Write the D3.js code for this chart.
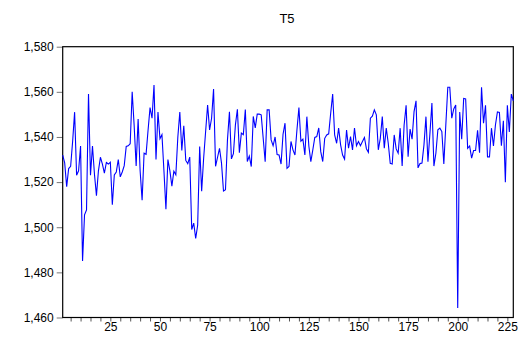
<!DOCTYPE html>
<html>
<head>
<meta charset="utf-8">
<script src="https://cdn.jsdelivr.net/npm/d3@7"></script>
<style>
  body { margin: 0; background: #fff; }
  svg text { font-family: Arial, "Liberation Sans", sans-serif; }
</style>
</head>
<body>
<div id="chart"></div>
<script>
// series T5, observations 1..228
const t5 = [
  1532, 1528.5, 1518, 1526, 1527, 1538, 1551, 1523, 1525, 1536,
  1485, 1505.5, 1507.7, 1559, 1523, 1536, 1523.5, 1514, 1525, 1531,
  1528, 1524, 1528.7, 1528, 1528.8, 1510, 1523.2, 1524.5, 1530, 1522.3,
  1524.5, 1527.3, 1535.8, 1536.1, 1537, 1560, 1545, 1527.2, 1548, 1525,
  1512, 1532.8, 1532.3, 1543, 1553, 1548.3, 1563, 1530, 1551, 1539.2,
  1541, 1525, 1508, 1530, 1525, 1518.2, 1524.8, 1523.2, 1540, 1551,
  1534, 1545, 1529.6, 1528.2, 1531.1, 1499, 1501.8, 1495, 1501, 1535.8,
  1516, 1530.6, 1542.4, 1554.2, 1543.1, 1548.3, 1561.2, 1527, 1531, 1535,
  1528.4, 1516, 1516.6, 1538.7, 1551.2, 1530.3, 1532.6, 1545.3, 1552.3, 1533,
  1541.7, 1541, 1552.2, 1529.1, 1531.5, 1526.9, 1549.1, 1544, 1550.1, 1550.1,
  1549.8, 1539.4, 1529, 1552, 1552, 1538.7, 1536.1, 1540, 1532.2, 1532,
  1528, 1541.2, 1546.1, 1526.1, 1526.9, 1538, 1534.3, 1532, 1543.1, 1553,
  1538.1, 1539, 1532, 1549, 1536, 1529.1, 1534.3, 1539.8, 1540.2, 1544,
  1533.5, 1529.1, 1539.4, 1540.9, 1541.4, 1550.5, 1559, 1540.9, 1537.2, 1543.9,
  1536.5, 1532, 1530.2, 1543.1, 1535, 1540.2, 1534.3, 1544, 1536.1, 1538,
  1536.1, 1538, 1539.8, 1534.8, 1533.2, 1548.3, 1549.2, 1552, 1549.8, 1534.3,
  1539.4, 1549, 1535, 1543.9, 1537.2, 1528.3, 1528, 1540.9, 1534.7, 1532.8,
  1543.9, 1527.1, 1545.3, 1554, 1531.2, 1543.5, 1539, 1551.2, 1556, 1526.3,
  1528.2, 1528.4, 1536.5, 1549, 1529, 1541.6, 1555, 1527.1, 1532.8, 1543.2,
  1543.9, 1542.4, 1528, 1545.3, 1562, 1562, 1548.3, 1552.4, 1554.2, 1464.2,
  1551.1, 1539, 1557.1, 1556.9, 1535, 1536, 1530.6, 1534, 1534, 1542.9,
  1533, 1562, 1546.1, 1554, 1531.2, 1531.2, 1543.9, 1536, 1545.3, 1551.1,
  1550.9, 1536.1, 1547.2, 1519.9, 1554, 1542.2, 1559, 1556
];
const yTicks = [1460, 1480, 1500, 1520, 1540, 1560, 1580];
const xLabels = [25, 50, 75, 100, 125, 150, 175, 200, 225];
const xMinor = d3.range(5, 230, 5);
const title = "T5";

const width = 528, height = 340;
const plotLeft = 62.7, plotRight = 513.3, plotTop = 46.7, plotBottom = 317.5;

const svg = d3.select("#chart").append("svg")
  .attr("width", width)
  .attr("height", height);

const x = d3.scaleLinear().domain([1, t5.length]).range([plotLeft, plotRight]);
const y = d3.scaleLinear().domain([1460, 1580]).range([plotBottom, plotTop]);

svg.append("text")
  .attr("x", 287).attr("y", 23)
  .attr("text-anchor", "middle")
  .attr("font-size", 13)
  .attr("fill", "#000")
  .text(title);

// y axis
const yAxis = svg.append("g")
  .attr("transform", `translate(${plotLeft},0)`)
  .call(d3.axisLeft(y).tickValues(yTicks).tickFormat(d3.format(",")).tickSize(6).tickPadding(3));
yAxis.select(".domain").remove();
yAxis.selectAll("line").attr("stroke", "#777");
yAxis.selectAll("text").attr("font-size", 12).attr("fill", "#000").attr("font-family", "Arial, 'Liberation Sans', sans-serif");

// x axis: minor ticks every 5, labels every 25
const xAxis = svg.append("g")
  .attr("transform", `translate(0,${plotBottom})`)
  .call(d3.axisBottom(x).tickValues(xMinor).tickSize(4)
    .tickFormat(d => xLabels.includes(d) ? d : ""));
xAxis.select(".domain").remove();
xAxis.selectAll("line").attr("stroke", "#555");
xAxis.selectAll("text").attr("font-size", 12).attr("fill", "#000").attr("dy", "0.55em")
  .attr("font-family", "Arial, 'Liberation Sans', sans-serif");

// frame
svg.append("rect")
  .attr("x", plotLeft).attr("y", plotTop)
  .attr("width", plotRight - plotLeft).attr("height", plotBottom - plotTop)
  .attr("fill", "none").attr("stroke", "#000").attr("stroke-width", 1.2);

const line = d3.line()
  .x((d, i) => x(i + 1))
  .y(d => y(d));

svg.append("path")
  .datum(t5)
  .attr("fill", "none")
  .attr("stroke", "#0000ff")
  .attr("stroke-width", 1.1)
  .attr("stroke-linejoin", "miter")
  .attr("d", line);
</script>
</body>
</html>
